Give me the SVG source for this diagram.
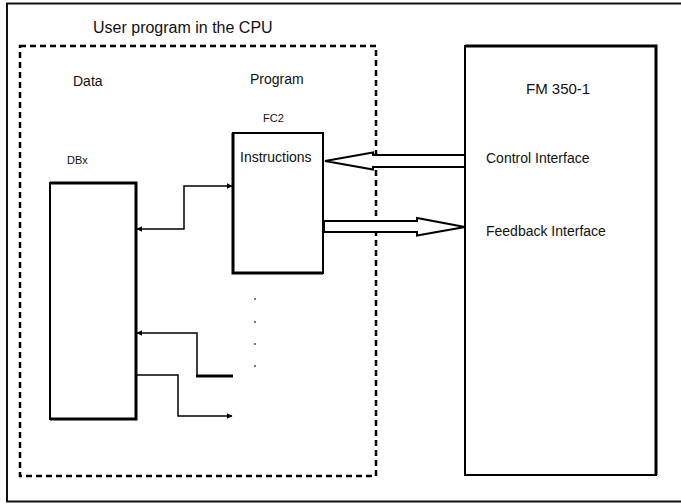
<svg xmlns="http://www.w3.org/2000/svg" width="681" height="504" viewBox="0 0 681 504">
<style>
text{font-family:"Liberation Sans",Arial,sans-serif;fill:#111}
.box{fill:#fff;stroke:#000;stroke-width:2}
.ln{fill:none;stroke:#000;stroke-width:1.5}
.hollow{fill:#fff;stroke:#000;stroke-width:2;stroke-linejoin:miter}
</style>
<defs>
<marker id="ah" viewBox="0 0 10 10" refX="9" refY="5" markerWidth="6" markerHeight="6" markerUnits="userSpaceOnUse" orient="auto-start-reverse">
<path d="M0,0 L10,5 L0,10 z" fill="#000"/>
</marker>
</defs>
<rect width="681" height="504" fill="#fff"/>
<g id="frame">
<path d="M681,3.5 H7 V501.5 H681" fill="none" stroke="#111" stroke-width="2"/>
</g>
<g id="cpu">
<rect x="20" y="46" width="356" height="430" fill="none" stroke="#000" stroke-width="2.5" stroke-dasharray="6,4"/>
<text x="93" y="33" font-size="16">User program in the CPU</text>
<text x="73" y="86" font-size="14">Data</text>
<text x="250" y="84" font-size="14">Program</text>
</g>
<g id="dbx">
<text x="67" y="164" font-size="11">DBx</text>
<rect class="box" x="50" y="183" width="86" height="236"/>
<path d="M50,183 H136 V419 H50" fill="none" stroke="#000" stroke-width="3"/>
</g>
<g id="fc2">
<text x="263" y="122" font-size="11">FC2</text>
<rect class="box" x="233" y="133" width="90" height="140"/>
<path d="M233,133 V273 H323" fill="none" stroke="#000" stroke-width="3"/>
<text x="240" y="162" font-size="14">Instructions</text>
</g>
<g id="fm">
<rect class="box" x="465" y="46" width="191" height="429"/>
<path d="M465,46 H656 V475" fill="none" stroke="#000" stroke-width="3"/>
<text x="526" y="94" font-size="15">FM 350-1</text>
<text x="486" y="163" font-size="14">Control Interface</text>
<text x="486" y="236" font-size="14">Feedback Interface</text>
</g>
<g id="connectors">
<path class="ln" d="M137,229 H184 V186 H232" marker-start="url(#ah)" marker-end="url(#ah)"/>
<path class="hollow" d="M325,161 L373,152.5 V155 H465 V167 H373 V169.5 Z"/>
<path class="hollow" d="M465,227 L417,218 V221 H324 V232 H417 V235.5 Z"/>
<path class="ln" d="M137,333 H197 V376" marker-start="url(#ah)"/>
<path d="M196,376 H233" stroke="#000" stroke-width="3"/>
<path class="ln" d="M136,375 H178 V416 H232" marker-end="url(#ah)"/>
<g fill="#777">
<rect x="254" y="298" width="2" height="2"/>
<rect x="254" y="321" width="2" height="2"/>
<rect x="254" y="343" width="2" height="2"/>
<rect x="254" y="365" width="2" height="2"/>
</g>
</g>
</svg>
